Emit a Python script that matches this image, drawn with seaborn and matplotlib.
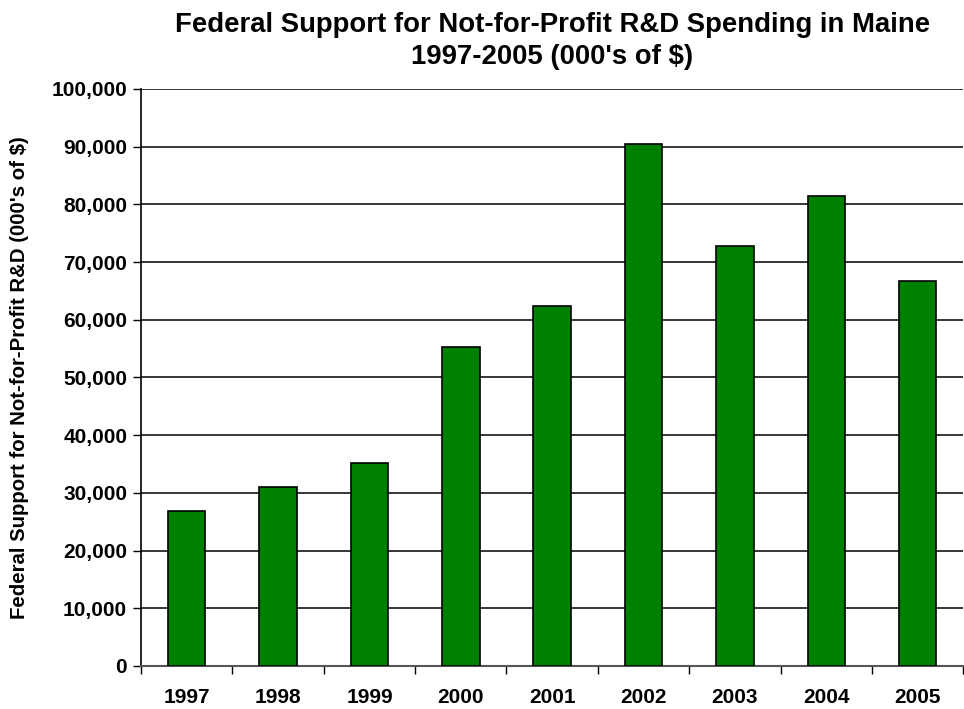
import numpy as np
import pandas as pd
import seaborn as sns
import matplotlib.pyplot as plt
from matplotlib.ticker import FuncFormatter, FixedLocator

# federal support for not-for-profit R&D, Maine (000's of $)
years = ["1997", "1998", "1999", "2000", "2001", "2002", "2003", "2004", "2005"]
support = [26900, 31100, 35200, 55300, 62400, 90400, 72700, 81500, 66700]

df = pd.DataFrame({"year": years, "support": support})

sns.set_style("white")
plt.rcParams['font.family'] = ['Liberation Sans', 'DejaVu Sans']
plt.rcParams['text.color'] = 'black'
plt.rcParams['xtick.color'] = 'black'
plt.rcParams['ytick.color'] = 'black'
plt.rcParams['axes.labelcolor'] = 'black'

fig = plt.figure(figsize=(9.64, 7.09), dpi=100)
ax = fig.add_axes([0.1463, 0.0607, 0.853, 0.8138])

sns.barplot(data=df, x="year", y="support", color="#008000", saturation=1,
            width=0.41, edgecolor="black", linewidth=1.2, ax=ax, zorder=3)

ax.set_ylim(0, 100000)
ax.set_xlim(-0.5, len(years) - 0.5)
ax.set_yticks(np.arange(0, 100001, 10000))
ax.yaxis.set_major_formatter(FuncFormatter(lambda v, p: f"{int(v):,}"))
ax.yaxis.grid(True, color="black", linewidth=1.1, zorder=0)
ax.set_axisbelow(True)

for s in ["top", "right"]:
    ax.spines[s].set_visible(False)
ax.spines["left"].set_color("black")
ax.spines["bottom"].set_color("#555555")
ax.spines["left"].set_linewidth(1.2)
ax.spines["bottom"].set_linewidth(1.5)

# category boundaries carry the x tick marks
ax.xaxis.set_minor_locator(FixedLocator(np.arange(-0.5, len(years), 1.0)))
ax.tick_params(axis="x", which="minor", bottom=True, length=6, width=1, color="black")
ax.tick_params(axis="x", which="major", bottom=True, length=0, pad=16)
ax.tick_params(axis="y", which="major", left=True, length=6, width=1, color="black", pad=4)

for lab in ax.get_xticklabels() + ax.get_yticklabels():
    lab.set_fontweight("bold")
    lab.set_fontsize(15)

ax.set_xlabel("")
ax.set_ylabel("Federal Support for Not-for-Profit R&D (000's of $)",
              fontsize=14.7, fontweight="bold", labelpad=16)
ax.set_title("Federal Support for Not-for-Profit R&D Spending in Maine\n1997-2005 (000's of $)",
             fontsize=19.8, fontweight="bold", pad=18, linespacing=1.3)

plt.savefig("out.png", dpi=100)
